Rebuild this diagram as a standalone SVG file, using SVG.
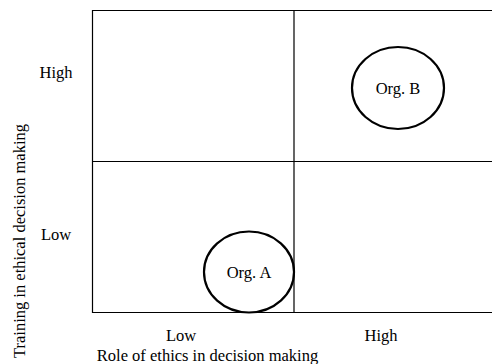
<svg xmlns="http://www.w3.org/2000/svg" width="492" height="364" viewBox="0 0 492 364">
<style>
text{font-family:"Liberation Serif","Times New Roman",serif;font-size:16.5px;fill:#000}
.grid{stroke:#000;stroke-width:1.2;fill:none}
.org{stroke:#000;stroke-width:2.2;fill:#fff}
</style>
<rect width="492" height="364" fill="#fff"/>
<g id="connectors">
<path class="grid" d="M493,10.5 H92.5 V312.5 H493 M92.5,161.5 H493 M294,10.5 V312.5"/>
</g>
<g id="orgB"><ellipse class="org" cx="398" cy="88" rx="46" ry="41"/><text x="398" y="94" text-anchor="middle">Org. B</text></g>
<g id="orgA"><ellipse class="org" cx="249" cy="272" rx="45" ry="40.5"/><text x="249" y="278" text-anchor="middle">Org. A</text></g>
<g id="labels">
<text x="56" y="78" text-anchor="middle">High</text>
<text x="56" y="240" text-anchor="middle">Low</text>
<text x="181" y="341" text-anchor="middle">Low</text>
<text x="381" y="341" text-anchor="middle">High</text>
<text x="207.5" y="361" text-anchor="middle">Role of ethics in decision making</text>
<text transform="translate(24.5,241) rotate(-90)" text-anchor="middle">Training in ethical decision making</text>
</g>
</svg>
